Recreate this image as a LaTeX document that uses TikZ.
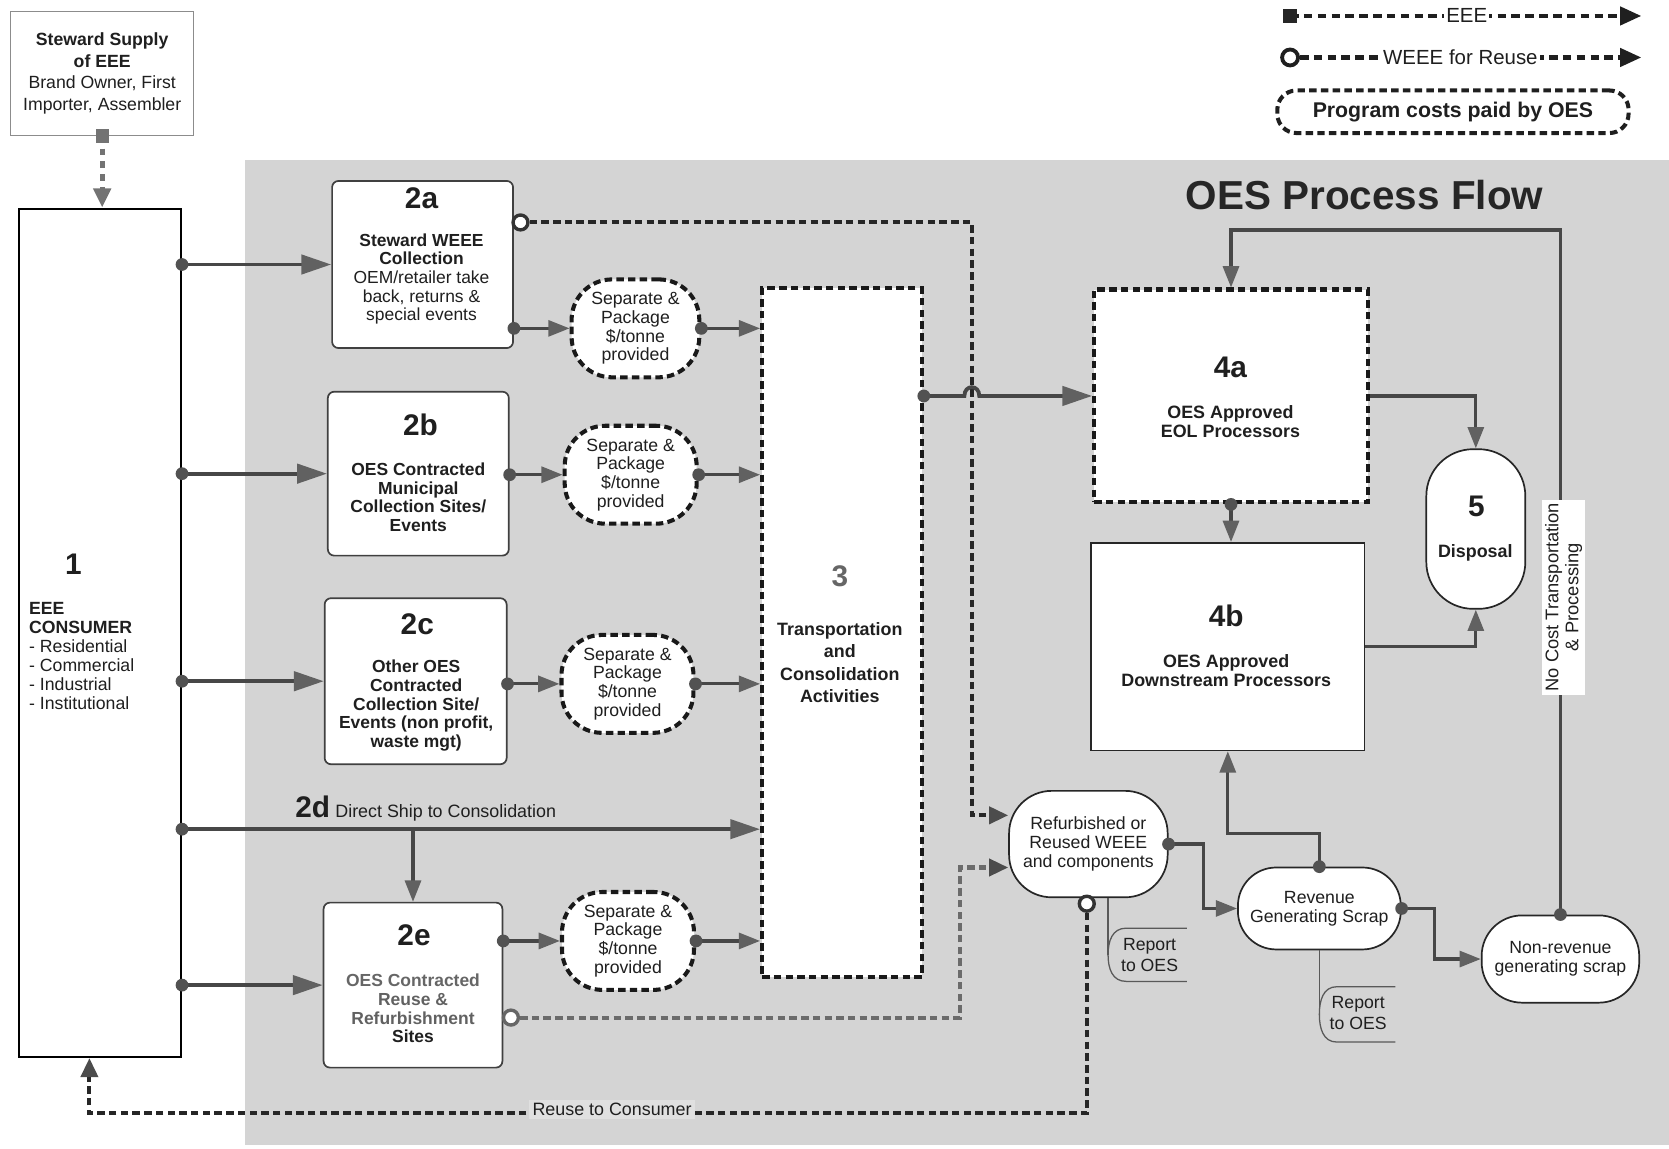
\documentclass[tikz,border=0pt]{standalone}
\usepackage{fontspec}
\setmainfont{Liberation Sans}
\usetikzlibrary{arrows.meta,calc}
\begin{document}
\begin{tikzpicture}[x=0.5pt,y=-0.5pt,
  txt/.style={align=center, inner sep=0pt, text=black!88, font=\fontsize{8.2}{8.75}\selectfont},
  btxt/.style={txt, font=\fontsize{8.2}{8.75}\selectfont\bfseries},
  num/.style={inner sep=0pt, text=black!88, font=\fontsize{14}{16}\selectfont\bfseries},
  cbox/.style={draw=black!75, line width=0.8pt, fill=white, rounded corners=3pt, inner sep=0pt},
  spbox/.style={draw=black!90, line width=1.9pt, dash pattern=on 3.5pt off 2pt, fill=white, rounded corners=19pt, inner sep=0pt, minimum width=62pt, minimum height=46pt, txt, font=\fontsize{8.3}{8.75}\selectfont},
  dbox/.style={draw=black!90, line width=1.9pt, dash pattern=on 3.5pt off 2pt, fill=white, inner sep=0pt},
  pill/.style={draw=black!85, line width=0.8pt, fill=white, inner sep=0pt, txt, font=\fontsize{8.3}{9}\selectfont},
  flow/.style={draw=black!72, line width=1.8pt, -{Triangle[length=14pt,width=9pt,color=black!62]}},
  sflow/.style={draw=black!72, line width=1.5pt, -{Triangle[length=10pt,width=7.5pt,color=black!62]}},
  dotm/.style={circle, fill=black!68, inner sep=0pt, minimum size=6pt},
  reuse/.style={draw=black!85, line width=1.9pt, dash pattern=on 3.5pt off 2pt, -{Triangle[length=9pt,width=8pt,color=black!70]}},
  ocirc/.style={circle, draw=black!80, line width=1.6pt, fill=white, inner sep=0pt, minimum size=7pt},
  eee/.style={draw=black!55, line width=2.2pt, dash pattern=on 3pt off 3pt, -{Triangle[length=9pt,width=8pt,color=black!55]}},
  legdash/.style={draw=black!88, line width=2pt, dash pattern=on 4pt off 2.5pt, -{Triangle[length=10pt,width=8.5pt,color=black!88]}},
  thinl/.style={draw=black!65, line width=0.6pt}
]
\useasboundingbox (0,0) rectangle (1568,1079);
\fill[black!17] (230,150) rectangle (1568,1076);

% legend
\coordinate (lsqc) at (1212,15);
\coordinate (leeeend) at (1542,15);
\draw[legdash] (lsqc) -- (leeeend);
\node[fill=black!85, minimum size=6.5pt, inner sep=0pt] (lsq) at (lsqc) {};
\node[txt, fill=white, inner sep=1pt, font=\fontsize{9.6}{11}\selectfont] (leee) at (1378,15) {EEE};
\node[ocirc, minimum size=7.5pt, line width=1.8pt, draw=black!88] (lwc) at (1212,54) {};
\coordinate (lwend) at (1542,54);
\draw[legdash] (lwc.east) -- (lwend);
\node[txt, fill=white, inner sep=1pt, font=\fontsize{9.6}{11}\selectfont] (lwt) at (1372,54) {WEEE for Reuse};
\node[draw=black!88, line width=1.9pt, dash pattern=on 3.5pt off 2pt, rounded corners=9pt, minimum width=165pt, minimum height=20pt, inner sep=0pt, font=\fontsize{10}{12}\selectfont\bfseries, text=black!88] (legbox) at (1365,105) {Program costs paid by OES};

% title
\node[inner sep=0pt, text=black!85, font=\fontsize{19}{22}\selectfont\bfseries] (title) at (1282,183) {OES Process Flow};

% steward
\node[draw=black!45, line width=0.6pt, fill=white, minimum width=86pt, minimum height=58pt, inner sep=0pt, txt, font=\fontsize{8.3}{10.2}\selectfont] (stew) at (96,69) {\textbf{Steward Supply}\\\textbf{of EEE}\\Brand Owner, First\\Importer, Assembler};

% consumer
\node[draw=black, line width=1pt, fill=white, minimum width=76pt, minimum height=398.5pt, inner sep=0pt] (cons) at (94,594.5) {};
\node[num] (n1) at (69,530) {1};
\node[txt, align=left, anchor=west, font=\fontsize{8.3}{8.9}\selectfont] (t1) at (27,616.5) {\textbf{EEE}\\\textbf{CONSUMER}\\- Residential\\- Commercial\\- Industrial\\- Institutional};

% boxes 2a-2e
\node[cbox, minimum width=85pt, minimum height=78.5pt] (b2a) at (397,248.5) {};
\node[num] (n2a) at (396,186) {2a};
\node[txt] (t2a) at (396,262) {\textbf{Steward WEEE}\\\textbf{Collection}\\OEM/retailer take\\back, returns \&\\special events};

\node[cbox, minimum width=85pt, minimum height=77pt] (b2b) at (393,445) {};
\node[num] (n2b) at (395,399) {2b};
\node[btxt] (t2b) at (393,467) {OES Contracted\\Municipal\\Collection Sites/\\Events};

\node[cbox, minimum width=85.5pt, minimum height=78pt] (b2c) at (390.5,640) {};
\node[num] (n2c) at (392,586) {2c};
\node[btxt] (t2c) at (391,663) {Other OES\\Contracted\\Collection Site/\\Events (non profit,\\waste mgt)};

\node[cbox, minimum width=84pt, minimum height=77.5pt] (b2e) at (388,925.5) {};
\node[num] (n2e) at (389,879) {2e};
\node[btxt] (t2e) at (388,947.5) {\textcolor{black!60}{OES Contracted}\\\textcolor{black!62}{Reuse \&}\\\textcolor{black!62}{Refurbishment}\\Sites};

% separate & package
\node[spbox, minimum width=60pt] (sp1) at (597,308.5) {Separate \&\\Package\\\$/tonne\\provided};
\node[spbox] (sp2) at (592.5,446) {Separate \&\\Package\\\$/tonne\\provided};
\node[spbox] (sp3) at (589.5,642.5) {Separate \&\\Package\\\$/tonne\\provided};
\node[spbox] (sp4) at (590,884) {Separate \&\\Package\\\$/tonne\\provided};

% box 3
\node[dbox, minimum width=75pt, minimum height=323.5pt] (b3) at (791,594.5) {};
\node[num, text=black!60] (n3) at (789,541) {3};
\node[btxt, font=\fontsize{8.4}{10.5}\selectfont\bfseries] (t3) at (789,622.5) {Transportation\\and\\Consolidation\\Activities};

% 4a, 4b, 5
\node[dbox, minimum width=128.5pt, minimum height=100pt] (p4a) at (1156.5,372) {};
\node[num] (n4a) at (1156,345) {4a};
\node[btxt, font=\fontsize{8.4}{9}\selectfont\bfseries] (t4a) at (1156,396) {OES Approved\\EOL Processors};

\node[draw=black!85, line width=0.8pt, fill=white, minimum width=128.5pt, minimum height=97.5pt, inner sep=0pt] (p4b) at (1153.5,607.5) {};
\node[num] (n4b) at (1152,579) {4b};
\node[btxt, font=\fontsize{8.4}{9}\selectfont\bfseries] (t4b) at (1152,630) {OES Approved\\Downstream Processors};

\node[pill, rounded corners=22pt, minimum width=46.5pt, minimum height=75pt] (disp) at (1386.5,497) {};
\node[num] (n5) at (1387,476) {5};
\node[btxt, font=\fontsize{8.4}{9}\selectfont\bfseries] (t5) at (1386,519) {Disposal};

% pills
\node[pill, rounded corners=20pt, minimum width=74.5pt, minimum height=50pt] (ref) at (1022.5,793) {Refurbished or\\Reused WEEE\\and components};
\node[pill, rounded corners=18pt, minimum width=76.5pt, minimum height=38.5pt] (rev) at (1239.5,853.5) {Revenue\\Generating Scrap};
\node[pill, rounded corners=19pt, minimum width=74pt, minimum height=41pt] (nrev) at (1466,901) {Non-revenue\\generating scrap};

% EEE supply
\draw[eee] (stew.south) -- (stew.south |- cons.north);
\node[fill=black!55, minimum width=6pt, minimum height=6.5pt, inner sep=0pt] (stsq) at (stew.south) {};

% consumer outputs
\draw[flow] (cons.east |- b2a.west) node[dotm]{} -- (b2a.west);
\draw[flow] (cons.east |- b2b.west) node[dotm]{} -- (b2b.west);
\draw[flow] (cons.east |- b2c.west) node[dotm]{} -- (b2c.west);
\draw[flow] (cons.east |- 0,779) node[dotm]{} -- (b3.west |- 0,779);
\draw[sflow] (b2e.north |- 0,779) -- (b2e.north);
\draw[flow] (cons.east |- b2e.west) node[dotm]{} -- (b2e.west);
\node[anchor=base west, inner sep=0pt, text=black!88] (l2d) at (277,768) {\fontsize{14}{16}\selectfont\bfseries 2d\hspace{2.5pt}\fontsize{8.4}{10}\selectfont\mdseries Direct Ship to Consolidation};

% 2x -> SP -> 3
\draw[sflow] (b2a.east |- sp1.west) node[dotm]{} -- (sp1.west);
\draw[sflow] (b2b.east |- sp2.west) node[dotm]{} -- (sp2.west);
\draw[sflow] (b2c.east |- sp3.west) node[dotm]{} -- (sp3.west);
\draw[sflow] (b2e.east |- sp4.west) node[dotm]{} -- (sp4.west);
\draw[sflow] (sp1.east) node[dotm]{} -- (sp1.east -| b3.west);
\draw[sflow] (sp2.east) node[dotm]{} -- (sp2.east -| b3.west);
\draw[sflow] (sp3.east) node[dotm]{} -- (sp3.east -| b3.west);
\draw[sflow] (sp4.east) node[dotm]{} -- (sp4.east -| b3.west);

% WEEE for reuse lines
\node[ocirc] (c2a) at (489,209) {};
\draw[reuse] (c2a.east) -- (913,209) -- (913,766) -- (ref.west |- 0,766);
\node[ocirc, draw=black!60] (c2e) at (480,956) {};
\draw[reuse, draw=black!58] (c2e.east) -- (902,956) -- (902,815) -- (ref.west |- 0,815);
\node[ocirc] (cref) at (1021,849) {};
\draw[reuse] (cref.south) -- (1021,1046) -- (84,1046) -- (84,0 |- cons.south);
\node[txt, fill=white!88!black, inner sep=1.5pt, font=\fontsize{8.4}{10}\selectfont] (rtc) at (575,1042) {Reuse to Consumer};

% 3 -> 4a with hop
\draw[flow] (b3.east |- p4a.west) node[dotm]{} -- (906,372) .. controls (906,361) and (920,361) .. (920,372) -- (p4a.west);

% processors
\draw[sflow] (p4a.south) node[dotm]{} -- (p4a.south |- p4b.north);
\draw[sflow] (p4a.east) -| (disp.north);
\draw[sflow] (p4b.east) -| (disp.south);

% scrap flows
\draw[sflow] (ref.east) node[dotm]{} -- ++(33,0) |- (rev.west);
\draw[sflow] (rev.north) node[dotm]{} -- ++(0,-31) -| (p4b.south);
\draw[sflow] (rev.east) node[dotm]{} -- ++(31,0) |- (nrev.west);
\draw[sflow] (nrev.north) node[dotm]{} -- (nrev.north |- 0,216) -| (p4a.north);
\node[txt, rotate=90, fill=white, inner sep=1.5pt, font=\fontsize{8.6}{9.5}\selectfont] (nocost) at (1469,561) {No Cost Transportation\\\& Processing};

% report callouts
\draw[thinl] (ref.south -| 1041,0) -- (1041,897);
\draw[thinl] (1115,872) -- (1058,872) .. controls (1045,872) and (1041,884) .. (1041,897) .. controls (1041,910) and (1045,922) .. (1058,922) -- (1115,922);
\node[txt, font=\fontsize{8.3}{9.8}\selectfont] (rep1) at (1080,897) {Report\\to OES};
\draw[thinl] (rev.south) -- (1239.5,953);
\draw[thinl] (1311,927) -- (1256,927) .. controls (1243,927) and (1239.5,940) .. (1239.5,953) .. controls (1239.5,966) and (1243,979) .. (1256,979) -- (1311,979);
\node[txt, font=\fontsize{8.3}{9.8}\selectfont] (rep2) at (1276,952) {Report\\to OES};
\end{tikzpicture}
\end{document}
